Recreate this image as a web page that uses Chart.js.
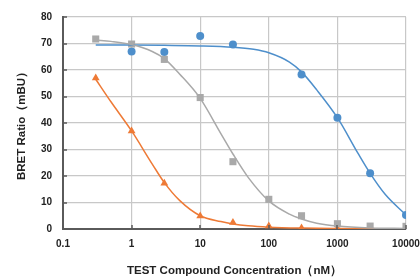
<!DOCTYPE html>
<html>
<head>
<meta charset="utf-8">
<script src="https://cdn.jsdelivr.net/npm/chart.js@4"></script>
<style>
  body { margin: 0; background: #fff; }
  #wrap { width: 420px; height: 278px; }
</style>
</head>
<body>
<div id="wrap"><canvas id="myChart" width="420" height="278"></canvas></div>
<script>
const blueX = [1, 3, 10, 30, 300, 1000, 3000, 10000];
const blueY = [67, 66.8, 72.8, 69.6, 58.3, 42, 21, 5.3];
const grayX = [0.3, 1, 3, 10, 30, 100, 300, 1000, 3000, 10000];
const grayY = [71.7, 69.8, 64, 49.6, 25.4, 11.2, 5, 2, 1.1, 1];
const orangeX = [0.3, 1, 3, 10, 30, 100, 300, 1000];
const orangeY = [57, 37, 17.3, 4.9, 2.5, 1.1, 0.4, 0.2];

// fitted curves
const blueFitX = [0.3, 1, 3, 10, 30, 60, 100, 200, 300, 500, 1000, 2000, 3000, 5000, 10000];
const blueFitY = [69.4, 69.4, 69.3, 69.1, 68.6, 67.8, 66.5, 63, 59.3, 52.5, 42, 28.5, 21, 13, 5.3];
const grayFitX = [0.3, 0.5, 1, 2, 3, 5, 10, 20, 30, 50, 100, 200, 300, 500, 1000, 3000, 10000];
const grayFitY = [71.3, 70.8, 69.6, 67, 64.3, 58.5, 49.3, 36, 28.3, 19.5, 10.6, 5.6, 3.8, 2.2, 1.1, 0.4, 0.2];
const orangeFitX = [0.3, 0.5, 1, 2, 3, 5, 10, 20, 30, 50, 100, 300, 1000, 10000];
const orangeFitY = [56.5, 48, 37, 24.5, 17.5, 10.8, 5, 2.8, 1.9, 1.2, 0.7, 0.35, 0.2, 0.1];

const xTicks = [0.1, 1, 10, 100, 1000, 10000];
const yTicks = [0, 10, 20, 30, 40, 50, 60, 70, 80];

const BLUE = '#4e8fcb';
const GRAY = '#a9a9a9';
const ORANGE = '#ee7a36';
const AXIS = '#5a5a5a';

function pts(xs, ys) {
  return xs.map((x, i) => ({ x: x, y: ys[i] }));
}

function curve(xs, ys, color) {
  return {
    data: pts(xs, ys),
    showLine: true,
    borderColor: color,
    borderWidth: 1.5,
    pointRadius: 0,
    cubicInterpolationMode: 'monotone',
    fill: false,
  };
}

function marks(xs, ys, color, style, r) {
  return {
    data: pts(xs, ys),
    showLine: false,
    pointStyle: style,
    pointRadius: r,
    backgroundColor: color,
    borderColor: color,
    borderWidth: 0,
  };
}

// short tick marks drawn on the inside of the axes
const innerTicks = {
  id: 'innerTicks',
  afterDraw(chart) {
    const { ctx, chartArea, scales } = chart;
    ctx.save();
    ctx.strokeStyle = AXIS;
    ctx.lineWidth = 1.5;
    ctx.beginPath();
    yTicks.forEach((v) => {
      const py = Math.round(scales.y.getPixelForValue(v));
      ctx.moveTo(chartArea.left, py);
      ctx.lineTo(chartArea.left + 4, py);
    });
    xTicks.forEach((v) => {
      const px = Math.round(scales.x.getPixelForValue(v));
      ctx.moveTo(px, chartArea.bottom);
      ctx.lineTo(px, chartArea.bottom - 4);
    });
    ctx.stroke();
    ctx.restore();
  },
};

const tickFont = { family: '"Liberation Sans", Arial', size: 10, weight: 'bold' };
const titleFont = { family: '"Liberation Sans", Arial', size: 11.5, weight: 'bold' };

const ctx = document.getElementById('myChart').getContext('2d');
const myChart = new Chart(ctx, {
  type: 'scatter',
  data: {
    datasets: [
      curve(grayFitX, grayFitY, GRAY),
      curve(orangeFitX, orangeFitY, ORANGE),
      curve(blueFitX, blueFitY, BLUE),
      marks(grayX, grayY, GRAY, 'rect', 5),
      marks(orangeX, orangeY, ORANGE, 'triangle', 4.5),
      marks(blueX, blueY, BLUE, 'circle', 4),
    ],
  },
  plugins: [innerTicks],
  options: {
    responsive: false,
    animation: false,
    layout: { padding: { left: 15, right: 0, top: 16, bottom: 0 } },
    plugins: {
      legend: { display: false },
      tooltip: { enabled: false },
    },
    scales: {
      x: {
        type: 'logarithmic',
        min: 0.1,
        max: 10000,
        afterBuildTicks: (scale) => {
          scale.ticks = xTicks.map((v) => ({ value: v }));
        },
        afterFit: (scale) => {
          scale.height = 49;
          scale.paddingRight = 14;
          scale.paddingLeft = 0;
        },
        ticks: {
          color: '#222',
          font: tickFont,
          padding: 9,
          maxRotation: 0,
          autoSkip: false,
          callback: (v) => String(v),
        },
        grid: {
          color: '#c8c8c8',
          lineWidth: 1.2,
          drawTicks: false,
        },
        border: { color: AXIS, width: 2 },
        title: {
          display: true,
          text: 'TEST Compound Concentration（nM）',
          color: '#222',
          font: titleFont,
          padding: { top: 14, bottom: 0 },
        },
      },
      y: {
        min: 0,
        max: 80,
        afterBuildTicks: (scale) => {
          scale.ticks = yTicks.map((v) => ({ value: v }));
        },
        afterFit: (scale) => {
          scale.width = 48;
        },
        ticks: {
          color: '#222',
          font: tickFont,
          padding: 11,
        },
        grid: {
          color: '#c8c8c8',
          lineWidth: 1.2,
          drawTicks: false,
        },
        border: { color: AXIS, width: 2 },
        title: {
          display: true,
          text: 'BRET Ratio（mBU）',
          color: '#222',
          font: titleFont,
          padding: { top: 0, bottom: 6 },
        },
      },
    },
  },
});
</script>
</body>
</html>
